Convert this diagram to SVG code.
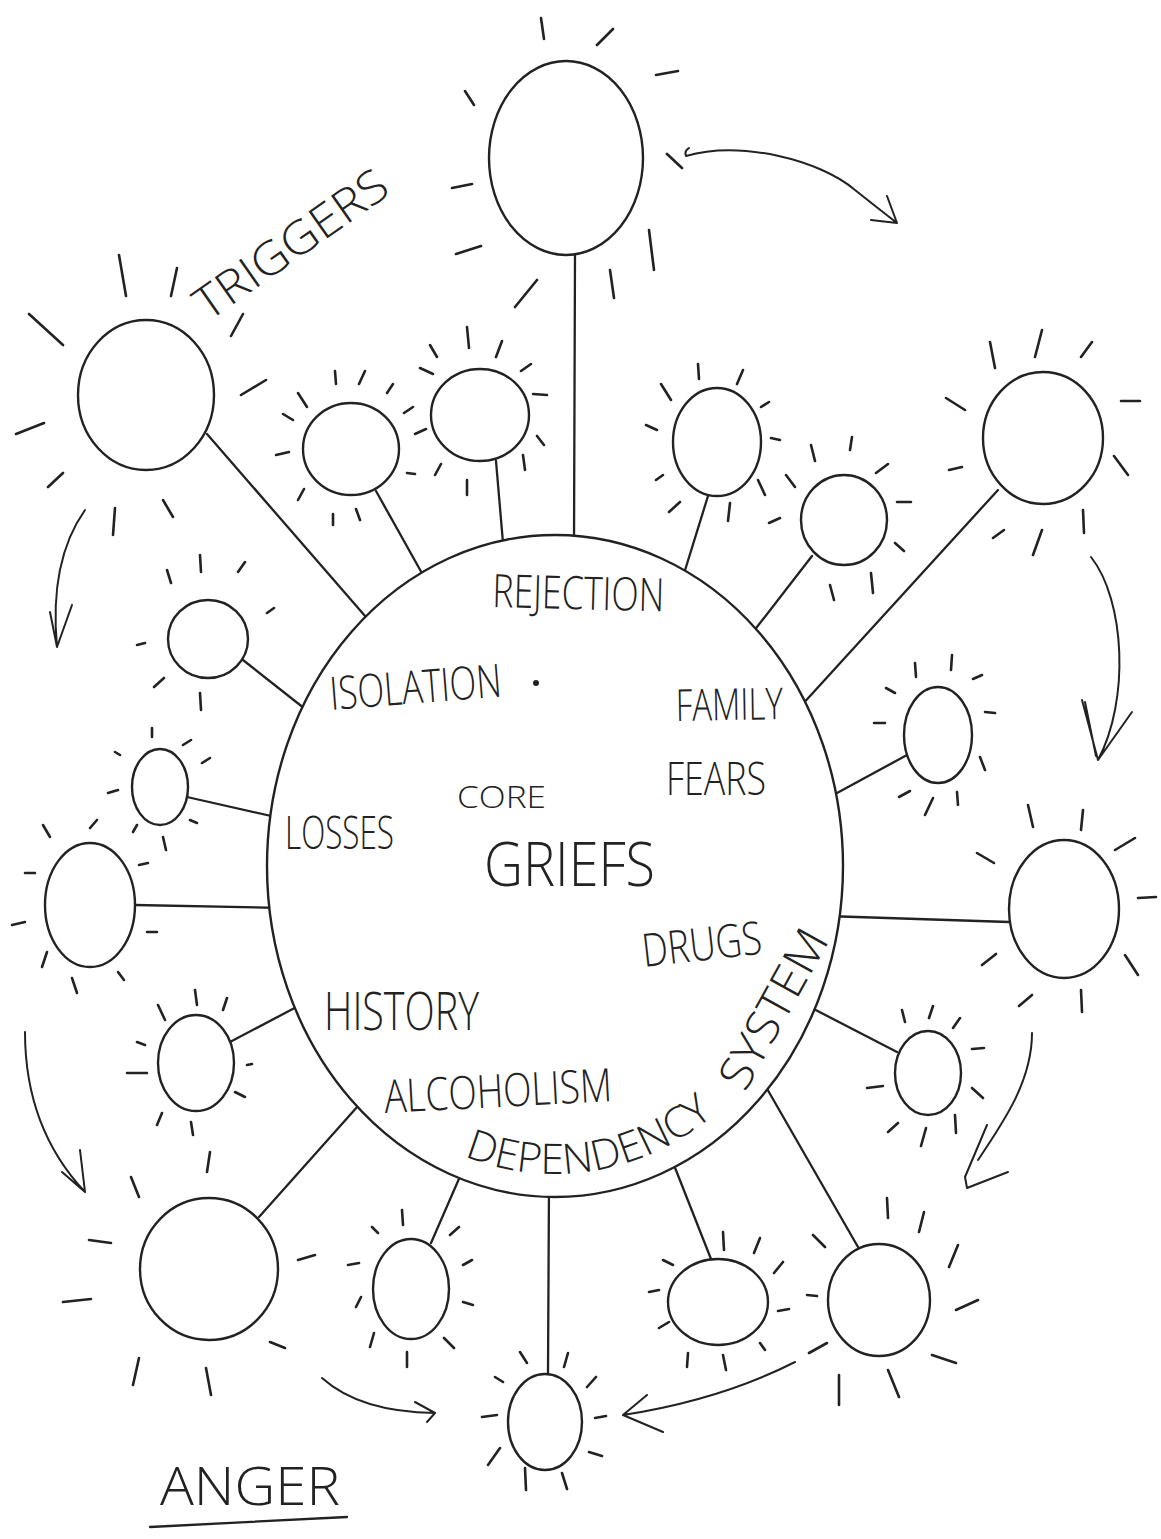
<svg xmlns="http://www.w3.org/2000/svg" width="1161" height="1539" viewBox="0 0 1161 1539">
<style>
.c{fill:#fff;stroke:#222;stroke-width:2.4}
.r{fill:none;stroke:#222;stroke-width:2.6;stroke-linecap:round}
.ln{fill:none;stroke:#222;stroke-width:2.3;stroke-linecap:round}
.ar{fill:none;stroke:#222;stroke-width:2;stroke-linecap:round;stroke-linejoin:round}
.t{font-family:"Open Sans","Liberation Sans",sans-serif;font-weight:300;fill:#222}
</style>
<defs>
<path id="depArc" d="M 285 866 A 270 308 0 0 0 825 866"/>
</defs>
<rect width="1161" height="1539" fill="#fff"/>
<g id="connectors">
<path class="ln" d="M575 254 L574 545"/>
<path class="ln" d="M207 434 L372 624"/>
<path class="ln" d="M376 491 L428 584"/>
<path class="ln" d="M496 461 L506 578"/>
<path class="ln" d="M708 496 L682 580"/>
<path class="ln" d="M812 556 L750 636"/>
<path class="ln" d="M998 490 L790 718"/>
<path class="ln" d="M907 755 L826 799"/>
<path class="ln" d="M1009 922 L826 916"/>
<path class="ln" d="M897 1052 L806 1005"/>
<path class="ln" d="M858 1247 L762 1080"/>
<path class="ln" d="M711 1259 L670 1155"/>
<path class="ln" d="M548 1374 L549 1185"/>
<path class="ln" d="M431 1243 L465 1165"/>
<path class="ln" d="M259 1217 L366 1097"/>
<path class="ln" d="M230 1042 L306 1002"/>
<path class="ln" d="M135 905 L282 908"/>
<path class="ln" d="M187 797 L280 818"/>
<path class="ln" d="M243 660 L314 716"/>
<path class="ar" d="M689 148 Q684 151 686 156 C740 140 820 160 855 190 Q875 206 897 223 M871 220 L897 223 L887 196"/>
<path class="ar" d="M85 510 Q49 561 57 647 M50 612 L57 647 L72 605"/>
<path class="ar" d="M1091 557 C1125 600 1130 700 1098 760 M1082 700 L1098 760 L1132 712 M1085 702 L1096 756"/>
<path class="ar" d="M1032 1033 C1032 1080 1005 1120 978 1160 M987 1125 L965 1177 L967 1188 L1008 1172"/>
<path class="ar" d="M25 1032 Q25 1128 85 1192 M62 1172 L85 1192 L80 1150"/>
<path class="ar" d="M322 1378 Q360 1412 435 1413 M415 1402 L435 1413 L427 1422"/>
<path class="ar" d="M795 1362 Q720 1400 623 1415 M647 1395 L623 1415 L663 1432"/>
</g>
<g id="core">
<ellipse class="c" cx="555" cy="866" rx="288" ry="331"/>
<text class="t" x="492" y="607" font-size="46" textLength="172" lengthAdjust="spacingAndGlyphs" transform="rotate(1.5 492 607)">REJECTION</text>
<text class="t" x="331" y="710" font-size="46" textLength="172" lengthAdjust="spacingAndGlyphs" transform="rotate(-4.5 331 710)">ISOLATION</text>
<circle cx="536" cy="683" r="3" fill="#222"/>
<text class="t" x="676" y="721" font-size="44" textLength="107" lengthAdjust="spacingAndGlyphs" transform="rotate(-1 676 721)">FAMILY</text>
<text class="t" x="666" y="795" font-size="46" textLength="100" lengthAdjust="spacingAndGlyphs">FEARS</text>
<text class="t" x="457" y="808" font-size="32" textLength="89" lengthAdjust="spacingAndGlyphs">CORE</text>
<text class="t" x="484" y="886" font-size="60" textLength="171" lengthAdjust="spacingAndGlyphs">GRIEFS</text>
<text class="t" x="285" y="849" font-size="46" textLength="109" lengthAdjust="spacingAndGlyphs">LOSSES</text>
<text class="t" x="644" y="967" font-size="46" textLength="120" lengthAdjust="spacingAndGlyphs" transform="rotate(-6.5 644 967)">DRUGS</text>
<text class="t" x="324" y="1030" font-size="54" textLength="155" lengthAdjust="spacingAndGlyphs">HISTORY</text>
<text class="t" x="385" y="1113" font-size="46" textLength="228" lengthAdjust="spacingAndGlyphs" transform="rotate(-3 385 1113)">ALCOHOLISM</text>
<text class="t" x="745" y="1093" font-size="46" textLength="175" lengthAdjust="spacingAndGlyphs" transform="rotate(-61 745 1093)">SYSTEM</text>
<text class="t" font-size="42"><textPath href="#depArc" startOffset="361" textLength="266" lengthAdjust="spacingAndGlyphs">DEPENDENCY</textPath></text>
</g>
<g id="n1"><ellipse class="c" cx="566" cy="158" rx="77" ry="97"/><path class="r" d="M465 91L474 105M452 188L472 184M456 254L481 246M515 307L537 280M541 18L544 39M597 45L613 29M656 75L678 71M667 154L682 168M649 230L654 270M610 270L614 298"/></g>
<g id="n2"><ellipse class="c" cx="146" cy="395" rx="68" ry="75"/><path class="r" d="M119 255L126 296M177 268L171 296M29 314L63 345M243 314L231 336M241 395L266 380M16 434L44 423M48 487L63 473M115 508L113 535M163 500L173 517"/></g>
<g id="n3"><ellipse class="c" cx="351" cy="449" rx="48" ry="46"/><path class="r" d="M335 371L336 384M365 371L359 384M393 384L387 393M298 393L307 407M283 414L293 420M404 413L413 407M276 455L289 452M298 500L304 489M333 514L333 525M356 509L360 520"/></g>
<g id="n4"><ellipse class="c" cx="480" cy="415" rx="49" ry="46"/><path class="r" d="M430 345L437 357M467 327L469 348M502 341L496 357M420 368L433 374M521 371L531 364M533 394L547 395M415 434L426 429M537 436L544 445M435 475L441 464M407 473L415 474M523 455L525 470M467 480L467 495"/></g>
<g id="n5"><ellipse class="c" cx="717" cy="442" rx="44" ry="54"/><path class="r" d="M661 384L671 400M698 364L699 379M743 370L737 384M761 407L769 402M646 425L657 430M771 438L780 440M656 480L663 475M758 480L765 495M669 512L680 502M730 503L728 521"/></g>
<g id="n6"><ellipse class="c" cx="844" cy="520" rx="43" ry="45"/><path class="r" d="M811 445L815 461M852 437L850 450M876 473L888 464M786 475L795 487M769 523L780 518M897 502L911 502M895 543L904 551M871 573L873 593M830 585L834 600"/></g>
<g id="n7"><ellipse class="c" cx="1043" cy="438" rx="60" ry="66"/><path class="r" d="M990 342L995 368M1042 330L1035 357M1092 342L1081 357M946 398L965 410M1121 401L1140 401M949 470L962 467M1114 456L1128 475M993 538L1004 530M1033 555L1042 530M1083 510L1084 533"/></g>
<g id="n8"><ellipse class="c" cx="938" cy="735" rx="34" ry="48"/><path class="r" d="M915 663L916 677M952 655L951 670M973 679L982 675M886 688L895 693M985 712L995 713M874 723L885 723M980 757L985 770M899 797L910 791M925 815L933 798M957 792L958 805"/></g>
<g id="n9"><ellipse class="c" cx="1064" cy="909" rx="55" ry="69"/><path class="r" d="M1028 805L1033 827M1083 810L1081 830M1115 850L1135 838M977 853L994 863M1138 898L1156 897M982 965L996 954M1125 955L1138 975M1019 1006L1032 995M1081 990L1082 1012"/></g>
<g id="n10"><ellipse class="c" cx="928" cy="1073" rx="33" ry="42"/><path class="r" d="M902 1010L905 1022M933 1006L929 1018M960 1018L953 1028M972 1049L984 1048M867 1088L883 1086M972 1088L983 1098M888 1132L898 1123M921 1146L926 1128M955 1115L956 1133"/></g>
<g id="n11"><ellipse class="c" cx="879" cy="1300" rx="51" ry="56"/><path class="r" d="M813 1235L825 1247M807 1295L817 1296M809 1353L827 1343M887 1198L888 1218M924 1212L919 1232M958 1245L949 1267M956 1310L978 1300M932 1355L956 1363M839 1375L839 1405M888 1370L899 1397"/></g>
<g id="n12"><ellipse class="c" cx="718" cy="1302" rx="50" ry="43"/><path class="r" d="M723 1232L724 1250M760 1238L754 1253M783 1262L774 1273M663 1260L673 1265M649 1292L659 1290M778 1311L789 1309M659 1328L669 1322M760 1343L765 1350M688 1353L687 1367M723 1355L726 1370"/></g>
<g id="n13"><ellipse class="c" cx="545" cy="1422" rx="37" ry="48"/><path class="r" d="M520 1352L527 1363M568 1353L564 1367M495 1377L503 1382M587 1387L596 1377M482 1417L497 1415M595 1418L606 1416M488 1465L500 1448M589 1452L602 1456M525 1468L526 1490M562 1473L567 1489"/></g>
<g id="n14"><ellipse class="c" cx="411" cy="1289" rx="38" ry="50"/><path class="r" d="M402 1210L403 1225M372 1227L378 1233M459 1227L450 1235M348 1265L359 1263M463 1265L472 1260M356 1307L361 1297M463 1302L473 1305M370 1347L374 1333M444 1338L454 1348M407 1352L407 1367"/></g>
<g id="n15"><ellipse class="c" cx="209" cy="1269" rx="69" ry="71"/><path class="r" d="M89 1240L111 1243M63 1302L91 1299M131 1177L139 1197M210 1152L207 1172M298 1260L315 1255M270 1342L285 1348M139 1358L133 1385M206 1368L211 1395"/></g>
<g id="n16"><ellipse class="c" cx="196" cy="1063" rx="38" ry="48"/><path class="r" d="M158 1005L165 1020M195 990L197 1005M227 998L223 1010M137 1042L145 1045M127 1073L147 1073M247 1065L252 1064M235 1092L245 1097M157 1125L162 1113M191 1122L193 1135"/></g>
<g id="n17"><ellipse class="c" cx="90" cy="905" rx="45" ry="62"/><path class="r" d="M25 873L35 873M12 925L25 922M42 967L47 952M72 978L77 993M118 972L124 980M147 932L157 932M139 865L148 863M43 825L50 837M90 828L97 820"/></g>
<g id="n18"><ellipse class="c" cx="160" cy="787" rx="28" ry="38"/><path class="r" d="M152 728L152 737M115 752L120 755M183 745L191 740M202 763L210 758M108 793L118 790M133 832L137 825M163 837L166 850M190 820L197 823"/></g>
<g id="n19"><ellipse class="c" cx="208" cy="639" rx="40" ry="39"/><path class="r" d="M200 555L201 572M167 570L171 583M238 572L245 562M267 613L274 608M137 645L145 643M154 687L164 678M200 693L201 710"/></g>
<g id="triggers"><text class="t" x="208" y="322" font-size="46" textLength="225" lengthAdjust="spacingAndGlyphs" transform="rotate(-35 208 322)">TRIGGERS</text></g>
<g id="anger"><text class="t" x="160" y="1505" font-size="54" textLength="180" lengthAdjust="spacingAndGlyphs">ANGER</text><path class="ln" d="M150 1527 L347 1517"/></g>
</svg>
